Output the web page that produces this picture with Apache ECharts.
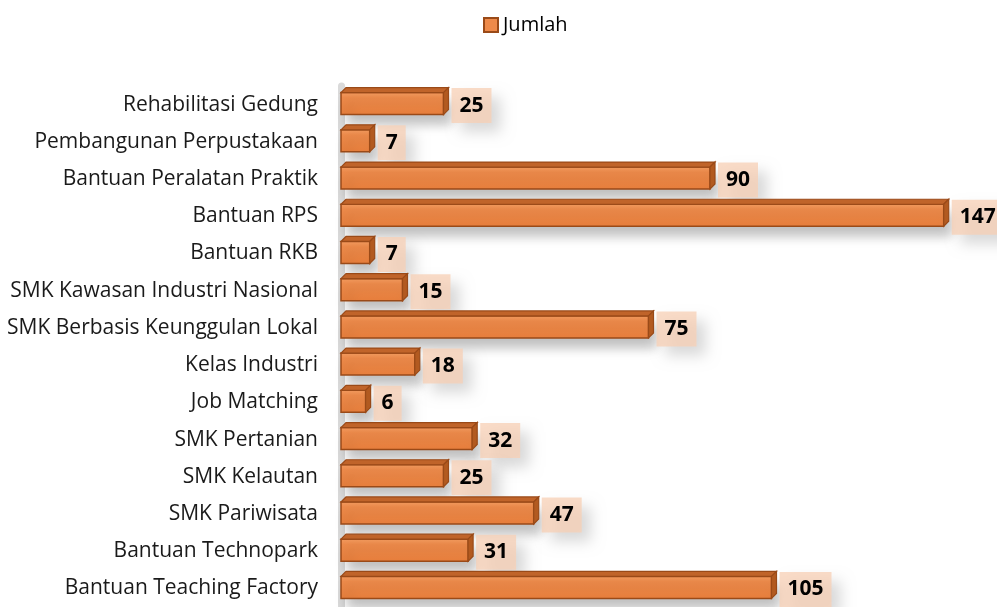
<!DOCTYPE html>
<html>
<head>
<meta charset="utf-8">
<script src="https://cdn.jsdelivr.net/npm/echarts@6/dist/echarts.min.js"></script>
<style>
  html, body { margin: 0; padding: 0; background: #fff; }
  #grafico { width: 997px; height: 607px; }
</style>
</head>
<body>
<div id="grafico"></div>
<script>
var kategori = [
  'Rehabilitasi Gedung',
  'Pembangunan Perpustakaan',
  'Bantuan Peralatan Praktik',
  'Bantuan RPS',
  'Bantuan RKB',
  'SMK Kawasan Industri Nasional',
  'SMK Berbasis Keunggulan Lokal',
  'Kelas Industri',
  'Job Matching',
  'SMK Pertanian',
  'SMK Kelautan',
  'SMK Pariwisata',
  'Bantuan Technopark',
  'Bantuan Teaching Factory'
]
var jumlah = [25, 7, 90, 147, 7, 15, 75, 18, 6, 32, 25, 47, 31, 105]

var fontTeks = '"Open Sans", "Liberation Sans", sans-serif'

// batang 3D: muka depan, atas, samping kanan + label
function gambarBatang(params, api) {
  var awal = api.coord([0, api.value(1)])
  var akhir = api.coord([api.value(0), api.value(1)])
  var h = 22
  var d = 5
  var x0 = awal[0]
  var x1 = akhir[0]
  var yc = akhir[1] - 1
  var yt = yc - h / 2
  var yb = yc + h / 2
  var garis = '#9a4a18'
  return {
    type: 'group',
    children: [
      {
        type: 'rect',
        shape: { x: x0, y: yt, width: x1 - x0, height: h },
        style: {
          fill: new echarts.graphic.LinearGradient(0, 0, 0, 1, [
            { offset: 0, color: '#f39d62' },
            { offset: 0.25, color: '#ee8b4b' },
            { offset: 1, color: '#e87f3c' }
          ]),
          stroke: garis,
          lineWidth: 1.5,
          shadowBlur: 12,
          shadowOffsetX: 7,
          shadowOffsetY: 9,
          shadowColor: 'rgba(0,0,0,0.25)'
        }
      },
      {
        type: 'polygon',
        shape: { points: [[x0, yt], [x1, yt], [x1 + d, yt - d], [x0 + d, yt - d]] },
        style: { fill: '#c0642a', stroke: garis, lineWidth: 1.2 }
      },
      {
        type: 'polygon',
        shape: { points: [[x1, yt], [x1 + d, yt - d], [x1 + d, yb - d], [x1, yb]] },
        style: { fill: '#b35a20', stroke: garis, lineWidth: 1.2 }
      },
      {
        type: 'text',
        style: {
          text: String(api.value(0)),
          x: x1 + 8,
          y: yc + 2,
          verticalAlign: 'middle',
          fill: '#000',
          font: 'bold 21px ' + fontTeks,
          backgroundColor: 'rgba(247,207,180,0.75)',
          padding: [7, 8],
          shadowBlur: 14,
          shadowOffsetX: 9,
          shadowOffsetY: 9,
          shadowColor: 'rgba(0,0,0,0.2)'
        }
      }
    ]
  }
}

var myChart = echarts.init(document.getElementById('grafico'))

var option = {
  animation: false,
  legend: {
    top: 10,
    left: 478,
    itemWidth: 14,
    itemHeight: 14,
    icon: 'rect',
    textStyle: { fontFamily: fontTeks, fontSize: 20, color: '#000' },
    data: ['Jumlah']
  },
  grid: {
    top: 86,
    left: 341,
    right: 0,
    height: 524,
    containLabel: false
  },
  xAxis: {
    type: 'value',
    min: 0,
    max: 160,
    show: false
  },
  yAxis: {
    type: 'category',
    inverse: true,
    data: kategori,
    axisTick: { show: false },
    axisLine: { show: true, lineStyle: { color: '#dadada', width: 7 } },
    axisLabel: {
      margin: 23,
      fontFamily: fontTeks,
      fontSize: 21,
      color: '#1a1a1a'
    }
  },
  series: [
    {
      name: 'Jumlah',
      type: 'custom',
      renderItem: gambarBatang,
      itemStyle: { color: '#ee8a4a', borderColor: '#9a4a18', borderWidth: 1.5 },
      encode: { x: 0, y: 1 },
      data: jumlah.map(function (v, i) { return [v, i] })
    }
  ]
}

myChart.setOption(option)
</script>
</body>
</html>
